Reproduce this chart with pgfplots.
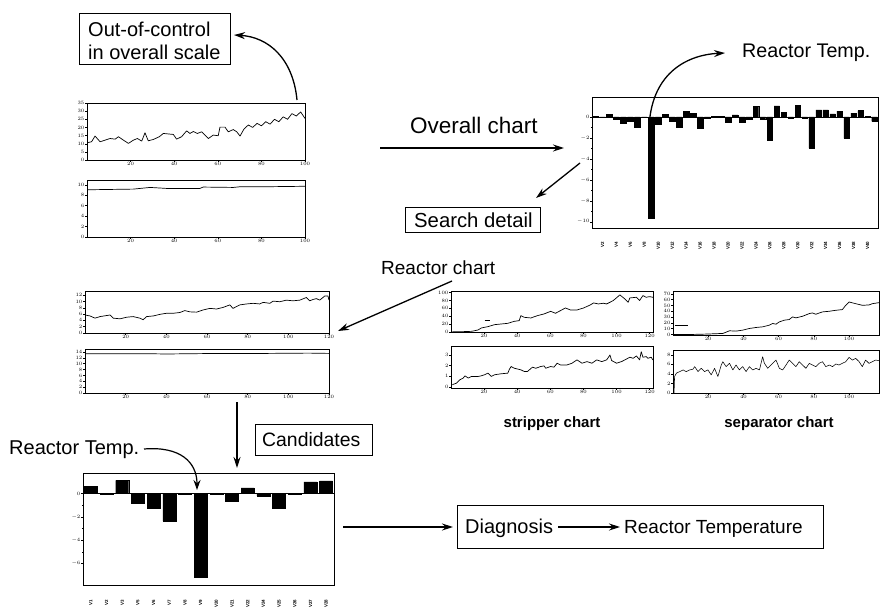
\documentclass[border=0pt]{standalone}
\usepackage{pgfplots}
\pgfplotsset{compat=1.18}
\usepackage{fontspec}
\setmainfont{Liberation Sans}
\usetikzlibrary{arrows.meta}
\pgfplotsset{
 mini/.style={scale only axis, anchor=south west, axis line style={line width=0.8pt},
   tick style={black, line width=0.4pt}, major tick length=1.6pt, minor tick length=1pt,
   tick align=outside, xtick pos=lower, ytick pos=left,
   ticklabel style={font=\fontsize{4}{4}\selectfont, inner sep=0.8pt},
   clip=true},
 ln/.style={black, line width=0.7pt, line join=round, mark=none},
}
\tikzset{arr/.style={line width=1.3pt, -{Stealth[length=11pt,width=7pt]}}}
\begin{document}
\begin{tikzpicture}
\path[use as bounding box] (0,0) rectangle (880pt,-607pt);

% ---- Chart A (overall, top) ----
\begin{axis}[mini, at={(87pt,-160pt)}, width=218pt, height=57pt,
  xmin=0, xmax=100, ymin=0, ymax=35, xtick={20,40,60,80,100}, ytick={0,5,...,35}]
\addplot[ln] coordinates {(0,10.6) (2.1,11.2) (3.7,14.7) (6.0,11.2) (8.3,12.2) (10.6,13.2) (12.9,12.8) (14.4,14.3) (16.7,12.2) (19.0,10.2) (21.3,12.2) (23.1,13.2) (25.1,11.6) (26.6,16.7) (28.1,11.8) (30.4,12.6) (33.2,14.3) (35.0,16.3) (39.6,15.7) (41.1,12.8) (43.4,14.3) (45.7,17.9) (47.2,16.3) (48.8,17.5) (50.6,16.3) (52.6,17.3) (55.7,13.2) (57.9,15.3) (60.2,14.9) (61.0,20.2) (63.3,20.2) (64.8,17.3) (67.1,18.7) (68.7,17.3) (70.2,14.7) (72,19) (74,21.5) (76,20) (78,22.5) (80,21) (82,23.5) (84,22) (86,25) (88,23.5) (90,26.5) (92,25) (94,28.5) (96,27) (98,29.5) (100,25.5)};
\end{axis}
% ---- Chart B ----
\begin{axis}[mini, at={(87pt,-237pt)}, width=218pt, height=57pt,
  xmin=0, xmax=100, ymin=0, ymax=10.9, xtick={20,40,60,80,100}, ytick={0,2,...,10}]
\addplot[ln] coordinates {(0,9.03) (21.3,9.16) (28.9,9.48) (36.5,9.29) (51.8,9.29) (53.3,9.55) (67.1,9.48) (70.2,9.61) (80,9.6) (90,9.65) (100,9.7)};
\end{axis}

% ---- Top-right bar chart ----
\begin{axis}[mini, ybar, at={(592pt,-228pt)}, width=286pt, height=131pt,
  xmin=0.5, xmax=41.5, ymin=-10.6, ymax=1.9, bar width=0.8,
  ytick={-10,-8,...,0}, minor y tick num=1,
  xtick={2,4,...,40}, xticklabels={V2,V4,V6,V8,V10,V12,V14,V16,V18,V20,V22,V24,V26,V28,V30,V32,V34,V36,V38,V40},
  xticklabel style={rotate=90, anchor=east, font=\fontsize{4.5}{4.5}\selectfont\bfseries}, xticklabel shift=11pt,
  xtick style={draw=none}]
\addplot[fill=black, draw=black] coordinates {(1,0.05) (2,-0.05) (3,0.25) (4,-0.25) (5,-0.57) (6,-0.42) (7,-0.96) (8,-0.05) (9,-9.68) (10,-0.67) (11,0.25) (12,-0.42) (13,-1.0) (14,0.5) (15,0.35) (16,-1.1) (17,-0.1) (18,0.08) (19,0.05) (20,-0.5) (21,0.2) (22,-0.48) (23,-0.2) (24,1.0) (25,-0.2) (26,-2.2) (27,1.05) (28,0.45) (29,-0.12) (30,1.1) (31,-0.08) (32,-2.97) (33,0.67) (34,0.67) (35,0.3) (36,0.55) (37,-2.05) (38,0.35) (39,0.6) (40,0.05) (41,-0.42)};
\addplot[sharp plot, black, line width=0.8pt] coordinates {(0.5,0) (41.5,0)};
\end{axis}

% ---- Chart C (reactor, top) ----
\begin{axis}[mini, at={(85pt,-333pt)}, width=244pt, height=42pt,
  xmin=0, xmax=120, ymin=0, ymax=13.3, xtick={20,40,...,120}, ytick={0,2,...,12}]
\addplot[ln] coordinates {(0,5.7) (2.5,5.4) (4.9,4.7) (7.4,5.2) (12.3,5.7) (13.9,4.7) (17.2,4.5) (20.5,5.0) (23.7,5.2) (27.0,4.7) (28.6,4.2) (30.3,5.2) (33.6,5.4) (36.8,5.9) (40.1,6.25) (43.4,6.25) (46.7,6.5) (49.1,7.1) (51.6,6.7) (54.8,6.6) (58.1,7.3) (61.4,7.8) (64.7,7.6) (67.9,8.1) (71.2,8.9) (72.8,7.8) (76.1,8.9) (79.4,9.2) (82.7,9.4) (85.9,9.2) (87.6,9.7) (90.9,9.4) (92.5,10.1) (95.8,9.9) (99.0,10.4) (102.3,10.2) (105.6,10.4) (108.9,11.25) (110.5,10.2) (112.1,10.6) (113.8,10.9) (115.4,10.4) (117.9,11.7) (119.5,11.7) (120,10.4)};
\end{axis}
% ---- Chart D ----
\begin{axis}[mini, at={(85pt,-393pt)}, width=244pt, height=44pt,
  xmin=0, xmax=120, ymin=0, ymax=15, xtick={20,40,...,120}, ytick={0,2,...,14}]
\addplot[ln] coordinates {(0,13.4) (30,13.4) (40,13.3) (60,13.45) (90,13.5) (110,13.6) (120,13.5)};
\end{axis}

% ---- Chart E (stripper, top) ----
\begin{axis}[mini, at={(451pt,-332pt)}, width=202pt, height=41pt,
  xmin=0, xmax=122, ymin=0, ymax=104, xtick={20,40,...,120}, ytick={0,20,...,100}]
\addplot[ln] coordinates {(0.8,0.5) (6.4,0.8) (12.4,1.7) (16.3,5.1) (18.3,10.2) (22.3,13.6) (26.3,18.6) (30.3,20.3) (34.3,22.0) (38.2,27.1) (41.2,28.8) (42.2,41.5) (44.2,37.3) (48.2,35.6) (52.2,41.5) (56.2,45.8) (60.2,52.5) (63.1,47.5) (66.1,54.2) (69.1,61.0) (72.1,55.9) (76.1,55.9) (80.1,61.0) (84.1,68.6) (86.1,73.7) (89.0,71.2) (92.0,72.9) (94.0,71.2) (98.0,79.7) (102.0,94.1) (105.0,83.9) (107.0,75.4) (108.0,86.4) (112.0,88.1) (113.9,79.7) (115.9,92.4) (117.9,88.1) (119.9,89.8) (121.9,88.1)};
\addplot[ln, line width=0.5pt] coordinates {(20.3,30.5) (23.3,30.5)};
\end{axis}
% ---- Chart F ----
\begin{axis}[mini, at={(451pt,-388pt)}, width=202pt, height=42pt,
  xmin=0, xmax=122, ymin=-0.09, ymax=3.84, xtick={20,40,...,120}, ytick={0,1,2,3}]
\addplot[ln] coordinates {(0.8,0.22) (3.4,0.37) (5.4,0.68) (7.4,0.84) (8.4,1.05) (10.4,0.84) (12.4,0.99) (14.3,0.99) (16.3,0.99) (18.3,1.05) (20.3,1.15) (22.3,1.30) (24.3,0.99) (26.3,1.15) (30.3,1.24) (34.3,1.30) (35.3,1.67) (36.3,1.92) (38.2,1.76) (42.2,1.61) (44.2,1.46) (46.2,1.46) (49.2,1.86) (51.2,1.76) (54.2,1.92) (56.2,1.98) (57.2,1.76) (60.2,1.92) (62.2,1.86) (64.1,2.23) (66.1,2.07) (70.1,2.07) (73.1,2.23) (76.1,2.54) (79.1,2.23) (82.1,2.38) (85.1,2.23) (88.0,2.54) (91.0,2.38) (94.0,2.54) (96.0,3.0) (97.0,2.48) (100.0,2.23) (103.0,2.38) (105.0,2.54) (108.0,2.79) (110.0,2.69) (112.0,2.91) (113.9,2.54) (114.9,3.31) (115.9,2.79) (117.9,2.85) (118.9,2.69) (120.9,2.79) (121.9,2.54)};
\end{axis}

% ---- Chart G (separator, top) ----
\begin{axis}[mini, at={(673pt,-335pt)}, width=206pt, height=44pt,
  xmin=0, xmax=117, ymin=-1, ymax=75, xtick={20,40,...,100}, ytick={0,10,...,70}]
\addplot[ln] coordinates {(0,0) (11.3,0) (18.9,0.6) (28.3,1.7) (32.1,6.3) (35.8,5.7) (39.6,7.4) (43.4,10.3) (47.2,12) (50.9,13.1) (54.7,16) (56.6,18.9) (58.5,17.7) (60.4,21.7) (63.2,24.6) (66.0,25.7) (67.9,30.3) (69.8,28.6) (73.6,31.4) (77.4,36) (79.2,37.1) (81.1,34.9) (84.9,38.9) (88.7,40) (92.5,41.7) (96.2,42.9) (98.1,50.3) (100,56) (103.8,53.1) (107.5,50.3) (111.3,50.9) (113.2,53.1) (117,54.9)};
\addplot[ln, line width=0.5pt] coordinates {(0.9,16) (8.5,16)};
\end{axis}
% ---- Chart H ----
\begin{axis}[mini, at={(673pt,-393pt)}, width=206pt, height=43pt,
  xmin=0, xmax=117, ymin=0, ymax=9, xtick={20,40,...,100}, ytick={0,2,...,8}]
\addplot[ln, line width=0.55pt] coordinates {(0.6,0) (0.9,3.45) (1.9,4.14) (3.8,4.48) (5.7,4.83) (7.5,4.48) (9.4,4.83) (11.3,4.97) (12.3,5.52) (14.2,4.48) (16.0,5.17) (17.9,4.48) (19.8,4.83) (21.7,3.79) (23.6,5.17) (25.5,3.45) (27.4,5.86) (28.3,6.55) (30.2,5.52) (32.1,6.21) (34.0,4.83) (35.8,5.86) (37.7,4.83) (39.6,5.52) (41.5,4.48) (43.4,5.52) (45.3,4.83) (47.2,5.17) (49.1,4.83) (50.9,7.59) (51.9,6.21) (53.8,5.17) (56.6,6.21) (58.5,6.9) (60.4,5.17) (62.3,4.83) (64.2,5.86) (66.0,6.9) (67.9,6.21) (69.8,5.52) (71.7,6.55) (73.6,5.86) (75.5,5.17) (77.4,6.21) (79.2,5.86) (81.1,5.52) (83.0,6.21) (84.9,6.55) (86.8,5.52) (88.7,5.86) (90.6,5.52) (92.5,6.07) (94.3,5.86) (96.2,6.21) (98.1,6.55) (100.0,7.45) (101.9,6.9) (103.8,7.24) (105.7,6.55) (107.5,5.52) (109.4,6.9) (111.3,6.21) (113.2,6.55) (115.1,6.9) (117.0,6.76)};
\end{axis}

% ---- Bottom bar chart (candidates) ----
\begin{axis}[mini, ybar, at={(83pt,-585pt)}, width=251pt, height=112pt,
  xmin=0.5, xmax=16.5, ymin=-7.86, ymax=1.77, bar width=0.83,
  ytick={-6,-4,-2,0}, minor y tick num=1,
  xtick={1,...,16}, xticklabels={V1,V2,V3,V5,V6,V7,V8,V9,V20,V21,V22,V24,V25,V26,V27,V28},
  xticklabel style={rotate=90, anchor=east, font=\fontsize{4.5}{4.5}\selectfont\bfseries}, xticklabel shift=12pt,
  xtick style={draw=none}]
\addplot[fill=black, draw=black] coordinates {(1,0.63) (2,-0.05) (3,1.14) (4,-0.86) (5,-1.23) (6,-2.37) (7,-0.03) (8,-7.23) (9,-0.03) (10,-0.66) (11,0.49) (12,-0.2) (13,-1.23) (14,-0.03) (15,1.0) (16,1.09)};
\addplot[sharp plot, black, line width=0.8pt] coordinates {(0.5,0) (16.5,0)};
\end{axis}

% ---- annotations ----
\begin{scope}[x=1pt, y=-1pt]
\draw[line width=0.9pt] (79,13) rectangle (230,64);
\node[anchor=base west, inner sep=0, font=\fontsize{20}{20}\selectfont] at (88,37) {Out-of-control};
\node[anchor=base west, inner sep=0, font=\fontsize{20}{20}\selectfont] at (88,60) {in overall scale};
\draw[arr] (297,100) .. controls (293,58) and (268,37) .. (234,35);

\node[anchor=base west, inner sep=0, font=\fontsize{22.5}{22.5}\selectfont] at (410,133) {Overall chart};
\draw[arr] (380,148) -- (564,148);

\draw[arr] (580,163) -- (536,198);
\draw[line width=0.9pt] (405,207) rectangle (540,232);
\node[anchor=base west, inner sep=0, font=\fontsize{20.3}{20.3}\selectfont] at (414,227) {Search detail};

\draw[arr] (649,130) .. controls (650,75) and (685,55) .. (725,53);
\node[anchor=base west, inner sep=0, font=\fontsize{19.7}{19.7}\selectfont] at (742,58) {Reactor Temp.};

\node[anchor=base west, inner sep=0, font=\fontsize{19}{19}\selectfont] at (381,274) {Reactor chart};
\draw[arr] (452,281) -- (338,331);

\node[anchor=base, inner sep=0, font=\fontsize{15}{15}\selectfont\bfseries] at (552,427) {stripper chart};
\node[anchor=base, inner sep=0, font=\fontsize{15}{15}\selectfont\bfseries] at (779,427) {separator chart};

\draw[arr] (237,402) -- (237,468);
\draw[line width=0.9pt] (255,424) rectangle (372,455);
\node[anchor=base west, inner sep=0, font=\fontsize{19.4}{19.4}\selectfont] at (262,446) {Candidates};

\node[anchor=base west, inner sep=0, font=\fontsize{20}{20}\selectfont] at (9,454) {Reactor Temp.};
\draw[line width=1.2pt, -{Stealth[length=10pt,width=7pt]}] (144,449) .. controls (180,446) and (197,462) .. (197,490);

\draw[arr] (343,527) -- (453,527);
\draw[line width=0.9pt] (457,505) rectangle (823,548);
\node[anchor=base west, inner sep=0, font=\fontsize{20}{20}\selectfont] at (465,533) {Diagnosis};
\draw[line width=1.2pt, -{Stealth[length=11pt,width=7pt]}] (558,527) -- (620,527);
\node[anchor=base west, inner sep=0, font=\fontsize{19}{19}\selectfont] at (624,533) {Reactor Temperature};
\end{scope}
\end{tikzpicture}
\end{document}
